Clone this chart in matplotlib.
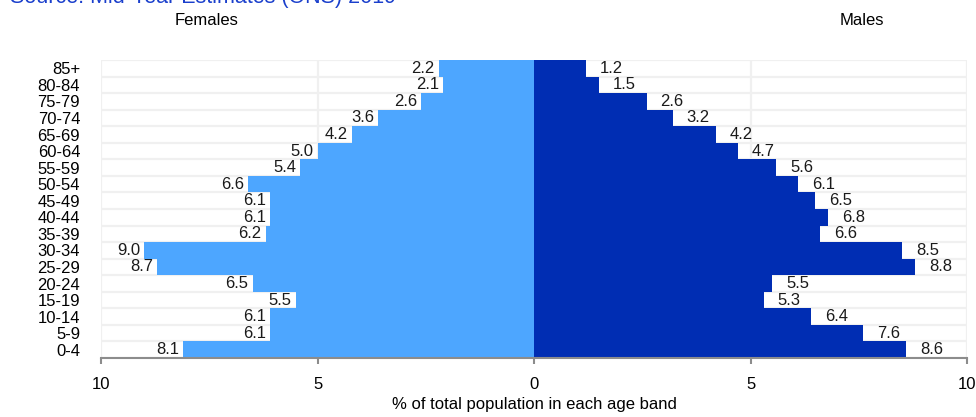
import matplotlib
matplotlib.use('Agg')
import matplotlib.pyplot as plt
import numpy as np

plt.rcParams['font.family'] = ['Liberation Sans', 'DejaVu Sans']

ages = ['0-4', '5-9', '10-14', '15-19', '20-24', '25-29', '30-34', '35-39', '40-44',
        '45-49', '50-54', '55-59', '60-64', '65-69', '70-74', '75-79', '80-84', '85+']
females = [8.1, 6.1, 6.1, 5.5, 6.5, 8.7, 9.0, 6.2, 6.1, 6.1, 6.6, 5.4, 5.0, 4.2, 3.6, 2.6, 2.1, 2.2]
males = [8.6, 7.6, 6.4, 5.3, 5.5, 8.8, 8.5, 6.6, 6.8, 6.5, 6.1, 5.6, 4.7, 4.2, 3.2, 2.6, 1.5, 1.2]
xticks = [-10, -5, 0, 5, 10]
xticklabels = ['10', '5', '0', '5', '10']

fem_col = '#4da6ff'
male_col = '#002db3'
grid_col = '#f0f0f0'
fs = 12

fig = plt.figure(figsize=(9.76, 4.17), dpi=100)
ax = fig.add_axes([0.1035, 0.1415, 0.8873, 0.7145])

y = np.arange(len(ages))
ax.barh(y, [-v for v in females], height=1.0, color=fem_col, zorder=2)
ax.barh(y, males, height=1.0, color=male_col, zorder=2)

# value labels at the end of each bar
for i in range(len(ages)):
    ax.annotate('%.1f' % females[i], (-females[i], y[i]), xytext=(-3, 0),
                textcoords='offset points', ha='right', va='center',
                fontsize=fs, color='#1a1a1a', zorder=3)
    ax.annotate('%.1f' % males[i], (males[i], y[i]), xytext=(10, 0),
                textcoords='offset points', ha='left', va='center',
                fontsize=fs, color='#1a1a1a', zorder=3)

ax.set_xlim(-10, 10)
ax.set_ylim(-0.5, len(ages) - 0.5)
ax.set_yticks(y)
ax.set_yticklabels(ages, fontsize=fs)
ax.set_xticks(xticks)
ax.set_xticklabels(xticklabels, fontsize=fs)

# light grid: row separators and vertical lines
for b in np.arange(-0.5, len(ages), 1.0):
    ax.axhline(b, color=grid_col, lw=1.6, zorder=1)
for t in xticks:
    ax.axvline(t, color=grid_col, lw=1.6, zorder=1)

for s in ['top', 'right', 'left']:
    ax.spines[s].set_visible(False)
ax.spines['bottom'].set_color('#8c8c8c')
ax.spines['bottom'].set_linewidth(1.5)
ax.spines['bottom'].set_zorder(4)
ax.tick_params(axis='y', length=0, pad=15)
ax.tick_params(axis='x', length=4, width=1.5, color='#8c8c8c', pad=10)

ax.set_xlabel('% of total population in each age band', fontsize=fs, labelpad=3)

fig.text(0.212, 0.950, 'Females', ha='center', va='center', fontsize=fs)
fig.text(0.883, 0.950, 'Males', ha='center', va='center', fontsize=fs)
fig.text(0.010, 1 - 3 / 417, 'Source: Mid-Year Estimates (ONS) 2019', ha='left',
         va='baseline', fontsize=15.5, color='#1a3fcc')

fig.savefig('out.png', dpi=100)
